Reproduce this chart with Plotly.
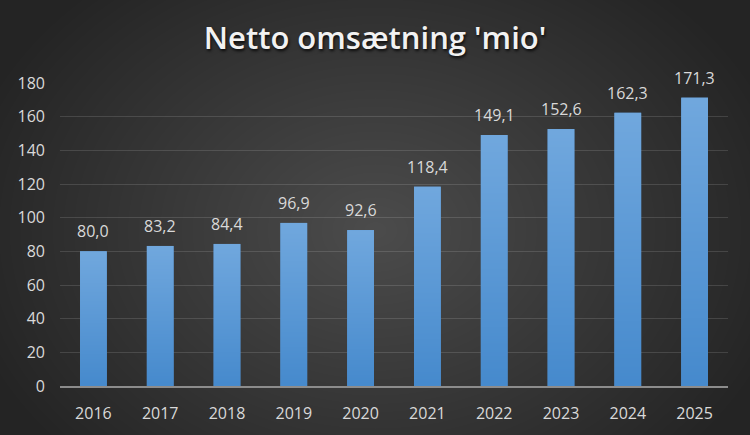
import base64, struct, zlib
import numpy as np
import plotly.graph_objects as go

years = ["2016", "2017", "2018", "2019", "2020", "2021", "2022", "2023", "2024", "2025"]
values = [80.0, 83.2, 84.4, 96.9, 92.6, 118.4, 149.1, 152.6, 162.3, 171.3]
y_ticks = [0, 20, 40, 60, 80, 100, 120, 140, 160, 180]
title_text = "Netto omsætning 'mio'"

W, H = 750, 435
BAR_W = 0.4


def png_data_uri(arr):
    h, w, _ = arr.shape
    raw = b"".join(b"\x00" + arr[i].tobytes() for i in range(h))
    def chunk(t, d):
        c = struct.pack(">I", len(d)) + t + d
        return c + struct.pack(">I", zlib.crc32(t + d) & 0xFFFFFFFF)
    png = b"\x89PNG\r\n\x1a\n" + chunk(b"IHDR", struct.pack(">IIBBBBB", w, h, 8, 2, 0, 0, 0))
    png += chunk(b"IDAT", zlib.compress(raw, 9)) + chunk(b"IEND", b"")
    return "data:image/png;base64," + base64.b64encode(png).decode()


# radial background gradient
yy, xx = np.mgrid[0:H, 0:W].astype(float)
d = np.sqrt(((xx - 375) / 430) ** 2 + ((yy - 230) / 330) ** 2)
d = np.clip(d, 0, 1)
inner, outer = 76, 36
g = inner + (outer - inner) * d
bg = np.clip(np.stack([g, g, g], axis=-1), 0, 255).astype(np.uint8)
bg_uri = png_data_uri(bg)

# vertical bar gradient (top light -> bottom darker)
t = np.linspace(0, 1, 256)[:, None]
top = np.array([113, 168, 222], float)
bot = np.array([70, 138, 205], float)
grad = (top + (bot - top) * t)[:, None, :]
grad = np.repeat(grad, 2, axis=1).astype(np.uint8)
grad_uri = png_data_uri(grad)

fig = go.Figure()
fig.add_trace(go.Bar(
    x=years, y=values,
    marker=dict(color="#5b98d6", line=dict(width=0)),
    width=BAR_W,
    hoverinfo="skip",
))

images = [dict(source=bg_uri, xref="paper", yref="paper", x=-60/668, y=1 + 83/303,
               sizex=W/668, sizey=H/303, xanchor="left", yanchor="top",
               sizing="stretch", layer="below")]
for i, v in enumerate(values):
    images.append(dict(source=grad_uri, xref="x", yref="y", x=i - BAR_W / 2, y=v,
                       sizex=BAR_W, sizey=v, xanchor="left", yanchor="top",
                       sizing="stretch", layer="above"))
    fig.add_annotation(
        x=i, y=v, text=f"{v:.1f}".replace(".", ","),
        showarrow=False, yanchor="bottom", yshift=7,
        font=dict(family="Open Sans, sans-serif", size=16, color="#d9d9d9"),
    )

fig.update_layout(
    width=W, height=H,
    margin=dict(l=60, r=22, t=83, b=49),
    paper_bgcolor="#333333",
    plot_bgcolor="rgba(0,0,0,0)",
    images=images,
    title=dict(text=title_text, x=0.5, xref="container", xanchor="center",
               y=1 - 38/H, yref="container", yanchor="middle",
               font=dict(family="Open Sans, sans-serif", size=31, weight=600, color="#f2f2f2",
                         shadow="1px 2px 3px rgba(0,0,0,0.8)")),
    showlegend=False,
    separators=",.",
    xaxis=dict(
        type="category", range=[-0.5, len(years) - 0.5], autorange=False,
        showgrid=False, showline=True, linecolor="#8c8c8c", linewidth=2,
        ticks="", tickfont=dict(family="Open Sans, sans-serif", size=16, color="#d9d9d9"),
        ticklabelstandoff=12,
    ),
    yaxis=dict(
        range=[0, 180], autorange=False, tickvals=y_ticks, showgrid=True,
        gridcolor="rgba(255,255,255,0.13)", gridwidth=1,
        zeroline=False, showline=False, ticks="",
        tickfont=dict(family="Open Sans, sans-serif", size=16, color="#d9d9d9"),
        ticklabelstandoff=14,
    ),
)

fig.write_html("out.html", config={"displayModeBar": False},
               post_script="document.body.style.margin='0';document.body.style.overflow='hidden';")
